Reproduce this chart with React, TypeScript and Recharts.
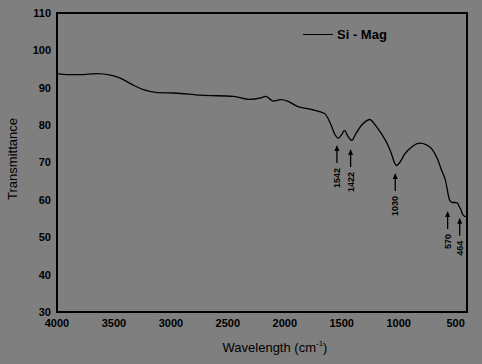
import {
  LineChart,
  Line,
  XAxis,
  YAxis,
  ReferenceArea,
  ReferenceDot,
  Legend,
} from "recharts";

// FTIR spectrum
const wavenumbers = [
  4000, 3900, 3800, 3650, 3530, 3440, 3330, 3240, 3120, 2970, 2740, 2450,
  2310, 2210, 2165, 2135, 2100, 2035, 1975, 1890, 1770, 1650, 1600, 1560,
  1530, 1500, 1476, 1445, 1411, 1380, 1328, 1290, 1255, 1200, 1152, 1100,
  1063, 1035, 1020, 990, 946, 880, 814, 760, 711, 660, 623, 590, 553, 530,
  505, 484, 470, 455, 440, 420, 404,
];
const transmittance = [
  93.8, 93.5, 93.5, 93.8, 93.4, 92.5, 90.7, 89.5, 88.7, 88.6, 88.0, 87.7,
  86.9, 87.3, 87.7, 87.1, 86.4, 86.8, 86.4, 85.0, 84.2, 83.1, 80.5, 77.5,
  76.5, 77.5, 78.6, 77.0, 75.9, 77.5, 79.9, 81.0, 81.5, 79.8, 77.7, 75.0,
  72.3, 69.8, 69.2, 70.0, 72.3, 74.3, 75.2, 74.8, 73.7, 71.0, 67.9, 65.3,
  60.0, 59.3, 59.3, 59.2, 58.3, 57.5, 56.2, 55.6, 55.5,
];

// marked peaks and where their arrows point
const peakLabels = [1542, 1422, 1030, 570, 464];
const arrowTips = [74.7, 73.6, 67.2, 57.0, 55.2];

const xTicks = [4000, 3500, 3000, 2500, 2000, 1500, 1000, 500];
const yTicks = [30, 40, 50, 60, 70, 80, 90, 100, 110];

const data = wavenumbers.map((wn, i) => ({ wn, t: transmittance[i] }));

const font = '"Liberation Sans", Arial, sans-serif';

function PeakArrow(props: any) {
  const { cx, cy, text } = props;
  const len = 18;
  return (
    <g>
      <line x1={cx} y1={cy + 5} x2={cx} y2={cy + len} stroke="#000" strokeWidth={1.3} />
      <path d={`M${cx},${cy} L${cx - 2.5},${cy + 6} L${cx + 2.5},${cy + 6} Z`} fill="#000" />
      <text
        transform={`translate(${cx},${cy + len + 5}) rotate(-90)`}
        textAnchor="end"
        dominantBaseline="central"
        fontSize={9}
        fontWeight="bold"
        fontFamily={font}
        fill="#000"
      >
        {text}
      </text>
    </g>
  );
}

function LegendBox() {
  return (
    <div style={{ display: "flex", alignItems: "center", fontFamily: font }}>
      <div style={{ width: 30, borderTop: "1.3px solid #000", marginRight: 4 }} />
      <span style={{ fontSize: 13, fontWeight: "bold", color: "#000" }}>Si - Mag</span>
    </div>
  );
}

export default function App() {
  return (
    <div
      style={{
        position: "fixed",
        left: 0,
        top: 0,
        width: 482,
        height: 364,
        background: "#7f7f7f",
        fontFamily: font,
      }}
    >
      <LineChart
        width={482}
        height={364}
        data={data}
        margin={{ top: 13, right: 15, bottom: 22, left: 0 }}
      >
        <XAxis
          dataKey="wn"
          type="number"
          domain={[400, 4000]}
          reversed
          ticks={xTicks}
          height={30}
          tickSize={0}
          tickMargin={7}
          axisLine={{ stroke: "#000", strokeWidth: 2 }}
          tick={{ fill: "#000", fontSize: 11, fontWeight: "bold", fontFamily: font }}
          allowDataOverflow
        />
        <YAxis
          type="number"
          domain={[30, 110]}
          ticks={yTicks}
          width={57}
          tickSize={0}
          tickMargin={6}
          axisLine={{ stroke: "#000", strokeWidth: 2 }}
          tick={{ fill: "#000", fontSize: 11, fontWeight: "bold", fontFamily: font }}
        />
        <ReferenceArea
          x1={400}
          x2={4000}
          y1={30}
          y2={110}
          fill="none"
          stroke="#000"
          strokeWidth={2}
          fillOpacity={0}
        />
        <Line
          dataKey="t"
          name="Si - Mag"
          stroke="#000"
          strokeWidth={1.3}
          dot={false}
          type="monotone"
          isAnimationActive={false}
        />
        {peakLabels.map((p, i) => (
          <ReferenceDot
            key={p}
            x={p}
            y={arrowTips[i]}
            ifOverflow="visible"
            shape={(s: any) => <PeakArrow {...s} text={String(p)} />}
          />
        ))}
        <Legend
          layout="vertical"
          align="center"
          verticalAlign="middle"
          content={() => <LegendBox />}
          wrapperStyle={{ top: 27, left: 303, width: 120 }}
        />
      </LineChart>
      <div
        style={{
          position: "absolute",
          left: 12,
          top: 159,
          transform: "translate(-50%, -50%) rotate(-90deg)",
          fontSize: 13,
          color: "#000",
          whiteSpace: "nowrap",
        }}
      >
        Transmittance
      </div>
      <div
        style={{
          position: "absolute",
          left: 275,
          top: 347,
          transform: "translate(-50%, -50%)",
          fontSize: 13,
          color: "#000",
          whiteSpace: "nowrap",
        }}
      >
        Wavelength (cm<sup style={{ fontSize: 8 }}>-1</sup>)
      </div>
    </div>
  );
}
